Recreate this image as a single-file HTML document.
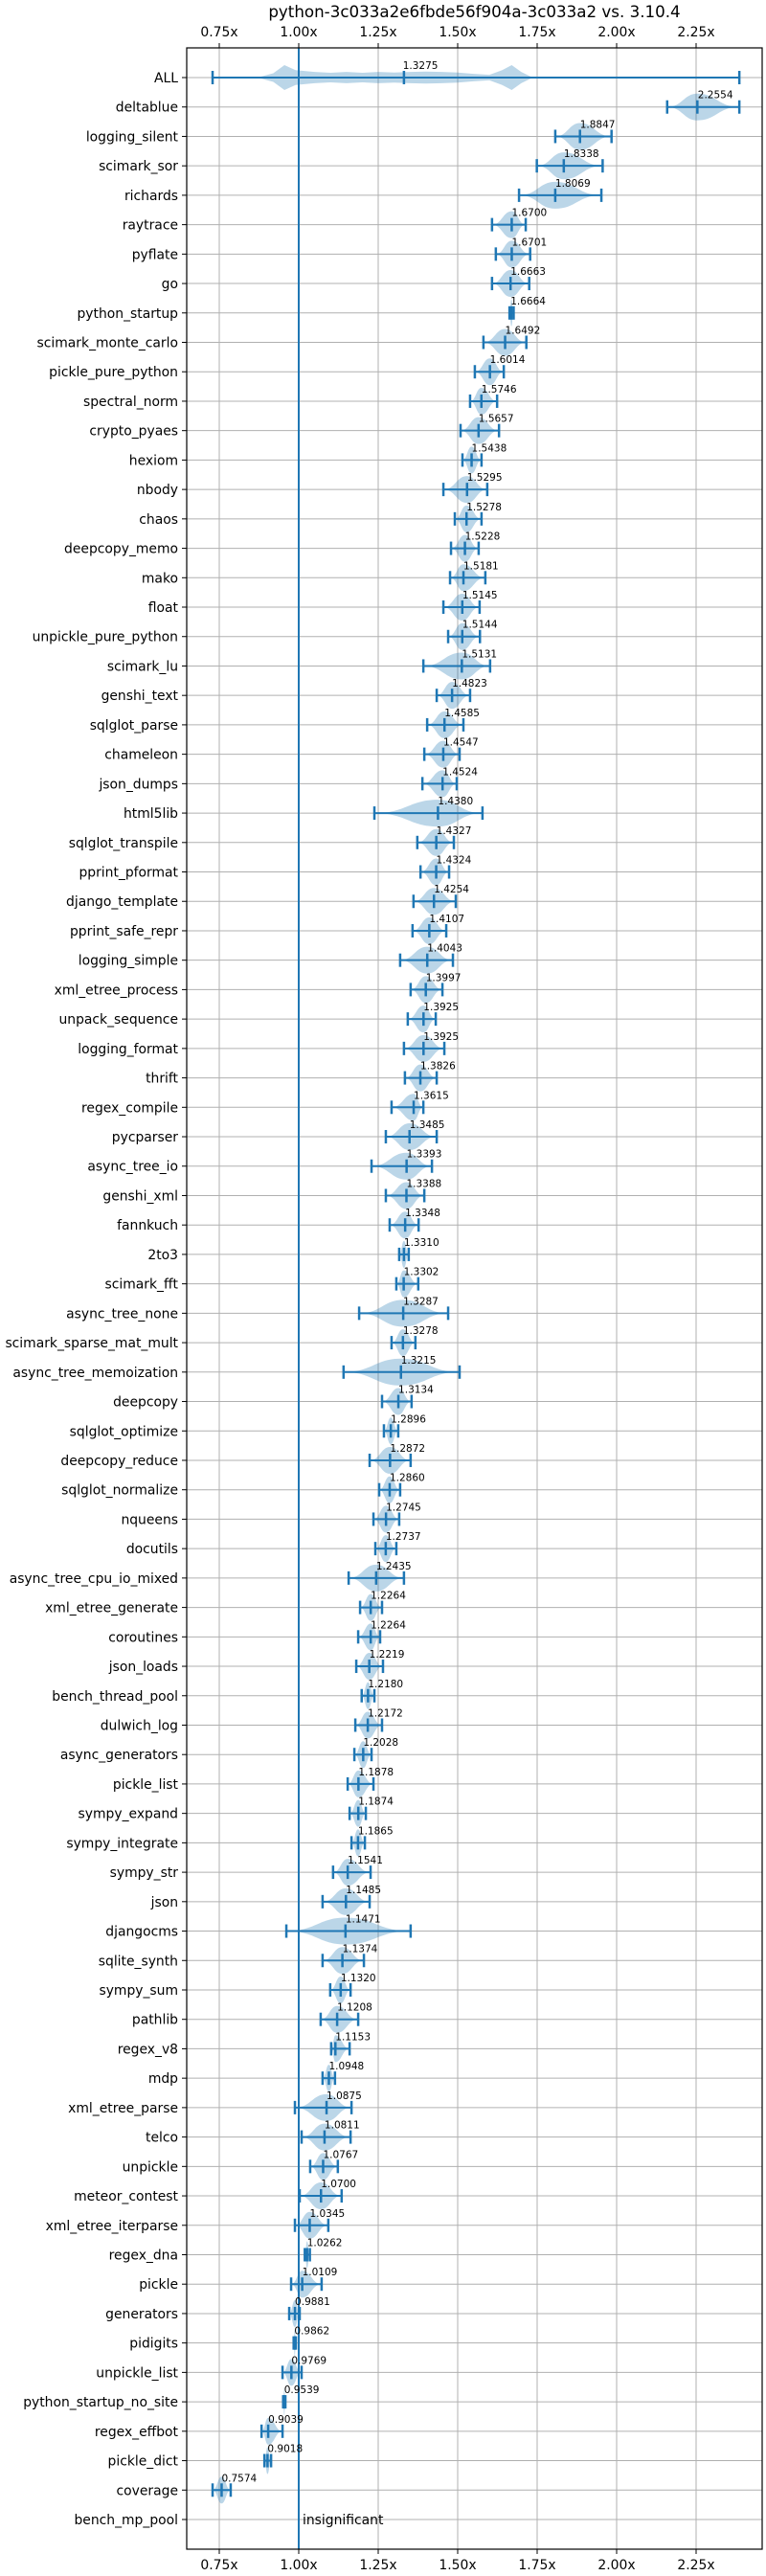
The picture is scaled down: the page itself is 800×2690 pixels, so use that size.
<!DOCTYPE html>
<html>
<head>
<meta charset="utf-8">
<style>
  html,body{margin:0;padding:0;background:#fff;}
  svg{display:block;}
  text{font-family:"DejaVu Sans","Liberation Sans",sans-serif;}
</style>
</head>
<body>
<svg id="chart" width="800" height="2690" viewBox="0 0 800 2690" xmlns="http://www.w3.org/2000/svg"></svg>
<script>
const names = ["ALL","deltablue","logging_silent","scimark_sor","richards","raytrace","pyflate","go","python_startup","scimark_monte_carlo","pickle_pure_python","spectral_norm","crypto_pyaes","hexiom","nbody","chaos","deepcopy_memo","mako","float","unpickle_pure_python","scimark_lu","genshi_text","sqlglot_parse","chameleon","json_dumps","html5lib","sqlglot_transpile","pprint_pformat","django_template","pprint_safe_repr","logging_simple","xml_etree_process","unpack_sequence","logging_format","thrift","regex_compile","pycparser","async_tree_io","genshi_xml","fannkuch","2to3","scimark_fft","async_tree_none","scimark_sparse_mat_mult","async_tree_memoization","deepcopy","sqlglot_optimize","deepcopy_reduce","sqlglot_normalize","nqueens","docutils","async_tree_cpu_io_mixed","xml_etree_generate","coroutines","json_loads","bench_thread_pool","dulwich_log","async_generators","pickle_list","sympy_expand","sympy_integrate","sympy_str","json","djangocms","sqlite_synth","sympy_sum","pathlib","regex_v8","mdp","xml_etree_parse","telco","unpickle","meteor_contest","xml_etree_iterparse","regex_dna","pickle","generators","pidigits","unpickle_list","python_startup_no_site","regex_effbot","pickle_dict","coverage","bench_mp_pool"];
const labels = ["1.3275","2.2554","1.8847","1.8338","1.8069","1.6700","1.6701","1.6663","1.6664","1.6492","1.6014","1.5746","1.5657","1.5438","1.5295","1.5278","1.5228","1.5181","1.5145","1.5144","1.5131","1.4823","1.4585","1.4547","1.4524","1.4380","1.4327","1.4324","1.4254","1.4107","1.4043","1.3997","1.3925","1.3925","1.3826","1.3615","1.3485","1.3393","1.3388","1.3348","1.3310","1.3302","1.3287","1.3278","1.3215","1.3134","1.2896","1.2872","1.2860","1.2745","1.2737","1.2435","1.2264","1.2264","1.2219","1.2180","1.2172","1.2028","1.1878","1.1874","1.1865","1.1541","1.1485","1.1471","1.1374","1.1320","1.1208","1.1153","1.0948","1.0875","1.0811","1.0767","1.0700","1.0345","1.0262","1.0109","0.9881","0.9862","0.9769","0.9539","0.9039","0.9018","0.7574","insignificant"];
const medians = [1.3310,2.2540,1.8847,1.8338,1.8069,1.6700,1.6701,1.6663,1.6690,1.6492,1.6014,1.5746,1.5657,1.5438,1.5295,1.5278,1.5228,1.5181,1.5145,1.5144,1.5131,1.4823,1.4585,1.4547,1.4524,1.4380,1.4327,1.4324,1.4254,1.4107,1.4043,1.3997,1.3925,1.3925,1.3826,1.3615,1.3485,1.3393,1.3388,1.3348,1.3310,1.3302,1.3287,1.3278,1.3215,1.3134,1.2896,1.2872,1.2860,1.2745,1.2737,1.2435,1.2264,1.2264,1.2219,1.2180,1.2172,1.2028,1.1878,1.1874,1.1865,1.1541,1.1485,1.1471,1.1374,1.1320,1.1208,1.1153,1.0948,1.0875,1.0811,1.0767,1.0700,1.0345,1.0262,1.0109,0.9881,0.9875,0.9769,0.9545,0.9039,0.9018,0.7574,1.0000];
const mins = [0.729,2.159,1.807,1.749,1.693,1.608,1.620,1.608,1.663,1.581,1.554,1.539,1.509,1.515,1.455,1.491,1.479,1.476,1.455,1.470,1.392,1.434,1.404,1.395,1.389,1.238,1.373,1.383,1.361,1.358,1.319,1.352,1.343,1.331,1.334,1.292,1.274,1.229,1.274,1.286,1.316,1.307,1.190,1.292,1.141,1.262,1.268,1.223,1.253,1.235,1.241,1.157,1.193,1.187,1.181,1.198,1.178,1.175,1.154,1.160,1.166,1.108,1.075,0.961,1.075,1.099,1.069,1.102,1.075,0.988,1.009,1.036,1.003,0.988,1.019,0.976,0.970,0.984,0.949,0.951,0.883,0.892,0.729,null];
const maxs = [2.386,2.386,1.984,1.956,1.952,1.714,1.728,1.725,1.676,1.716,1.645,1.624,1.630,1.575,1.593,1.575,1.566,1.587,1.569,1.570,1.602,1.539,1.518,1.506,1.497,1.578,1.488,1.473,1.494,1.464,1.485,1.452,1.431,1.458,1.434,1.392,1.434,1.419,1.395,1.377,1.346,1.376,1.470,1.367,1.506,1.355,1.313,1.352,1.319,1.316,1.307,1.331,1.262,1.256,1.265,1.238,1.262,1.229,1.235,1.211,1.208,1.226,1.223,1.352,1.205,1.163,1.187,1.160,1.114,1.166,1.163,1.123,1.135,1.093,1.035,1.072,1.003,0.991,1.009,0.958,0.949,0.913,0.786,null];
// density profile of the ALL violin (x value, relative half-width)
const allX = [0.87,0.92,0.955,0.99,1.05,1.10,1.15,1.20,1.25,1.30,1.35,1.40,1.45,1.50,1.55,1.60,1.64,1.67,1.70,1.73,1.77];
const allD = [0.0,0.35,1.0,0.6,0.45,0.38,0.45,0.38,0.45,0.4,0.45,0.48,0.45,0.4,0.3,0.22,0.6,1.0,0.45,0.08,0.0];
const xTicks = [0.75,1.00,1.25,1.50,1.75,2.00,2.25];
const xTickLabels = ["0.75x","1.00x","1.25x","1.50x","1.75x","2.00x","2.25x"];

const NS = "http://www.w3.org/2000/svg";
const svg = document.getElementById('chart');
const L=195,R=796,T=50,B=2662;
const xs = v => 312 + (v-1)*332;
const rowY = i => 81 + i*(2631-81)/(names.length-1);
const BLUE = "#1f77b4", FILL="rgba(31,119,180,0.3)";
const HALF = 14;

function mk(tag, attrs, parent){
  const e = document.createElementNS(NS, tag);
  for (const k in attrs) e.setAttribute(k, attrs[k]);
  (parent||svg).appendChild(e);
  return e;
}

// title
const title = mk('text',{x:(L+R)/2,y:18,'text-anchor':'middle','font-size':'16.7px',fill:'#000'});


title.textContent = "python-3c033a2e6fbde56f904a-3c033a2 vs. 3.10.4";

// grid
const grid = mk('g',{});


xTicks.forEach((t,k)=>{
  const gl = mk('line',{x1:xs(t),x2:xs(t),y1:T,y2:B,stroke:'#b0b0b0','stroke-width':1},grid);
  
  
});
names.forEach((n,i)=>{
  const gl = mk('line',{x1:L,x2:R,y1:rowY(i),y2:rowY(i),stroke:'#b0b0b0','stroke-width':1},grid);
  
  
});

// violins
const vg = mk('g',{});


names.forEach((n,i)=>{
  const y = rowY(i);
  let d;
  if (i===0){
    let up = allX.map((v,k)=>`${xs(v)},${y-allD[k]*13}`);
    let dn = allX.slice().reverse().map((v,k)=>`${xs(v)},${y+allD[allD.length-1-k]*13}`);
    d = "M"+up.join(" L")+" L"+dn.join(" L")+"Z";
  } else if (mins[i]===null){
    d = `M${xs(0.999)},${y-8} L${xs(1.001)},${y-8} L${xs(1.001)},${y+8} L${xs(0.999)},${y+8}Z`;
  } else {
    const a=xs(mins[i]), m=xs(medians[i]), b=xs(maxs[i]);
    d = `M${a},${y} C${a+(m-a)*0.5},${y} ${m-(m-a)*0.45},${y-HALF} ${m},${y-HALF} C${m+(b-m)*0.45},${y-HALF} ${b-(b-m)*0.5},${y} ${b},${y} C${b-(b-m)*0.5},${y} ${m+(b-m)*0.45},${y+HALF} ${m},${y+HALF} C${m-(m-a)*0.45},${y+HALF} ${a+(m-a)*0.5},${y} ${a},${y}Z`;
  }
  const p = mk('path',{d:d,fill:FILL,stroke:'none'},vg);
  
  
});

// reference line at 1.00x
const ref = mk('line',{x1:xs(1),x2:xs(1),y1:T,y2:B,stroke:BLUE,'stroke-width':2});



// whiskers, caps, medians, labels
names.forEach((n,i)=>{
  const y = rowY(i);
  const g = mk('g',{});
  
  
  if (mins[i]!==null){
    const a=xs(mins[i]), b=xs(maxs[i]), m=xs(medians[i]);
    const w = mk('line',{x1:a,x2:b,y1:y,y2:y,stroke:BLUE,'stroke-width':2},g);
    
    
    const c1 = mk('line',{x1:a,x2:a,y1:y-7,y2:y+7,stroke:BLUE,'stroke-width':2.5},g);
    
    
    const c2 = mk('line',{x1:b,x2:b,y1:y-7,y2:y+7,stroke:BLUE,'stroke-width':2.5},g);
    
    
    const md = mk('line',{x1:m,x2:m,y1:y-7,y2:y+7,stroke:BLUE,'stroke-width':2.5},g);
    
    
    const t = mk('text',{x:xs(parseFloat(labels[i])),y:y-9,'font-size':'10.5px',fill:'#000'},g);
    
    
    t.textContent = labels[i];
  } else {
    const t = mk('text',{x:xs(1)+4,y:y+5,'font-size':'13.9px',fill:'#000'},g);
    
    
    t.textContent = labels[i];
  }
  const tk = mk('line',{x1:L-5,x2:L,y1:y,y2:y,stroke:'#000','stroke-width':1},g);
  
  
  const yl = mk('text',{x:L-9,y:y+5,'text-anchor':'end','font-size':'13.9px',fill:'#000'},g);
  
  
  yl.textContent = n;
});

// x ticks top & bottom
xTicks.forEach((t,k)=>{
  const x = xs(t);
  const a = mk('line',{x1:x,x2:x,y1:T-5,y2:T,stroke:'#000','stroke-width':1});
  
  
  const b = mk('line',{x1:x,x2:x,y1:B,y2:B+5,stroke:'#000','stroke-width':1});
  
  
  const lt = mk('text',{x:x,y:38,'text-anchor':'middle','font-size':'13.9px',fill:'#000'});
  
  
  lt.textContent = xTickLabels[k];
  const lb = mk('text',{x:x,y:2683,'text-anchor':'middle','font-size':'13.9px',fill:'#000'});
  
  
  lb.textContent = xTickLabels[k];
});

// frame
const frame = mk('rect',{x:L,y:T,width:R-L,height:B-T,fill:'none',stroke:'#000','stroke-width':1.2});


</script>
</body>
</html>
